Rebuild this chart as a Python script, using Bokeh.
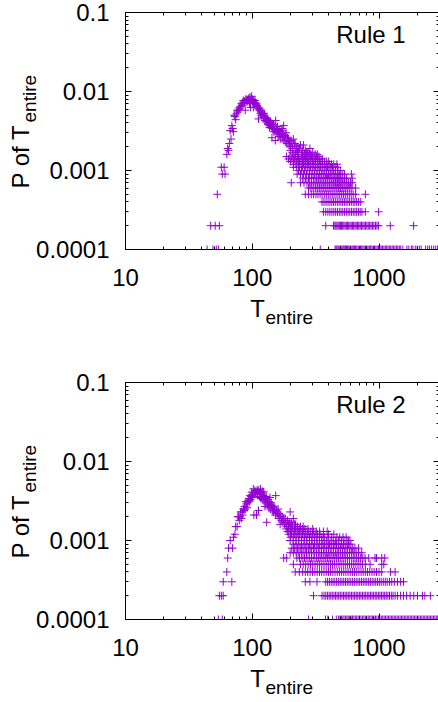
import numpy as np
from bokeh.plotting import figure
from bokeh.models import (Range1d, FixedTicker, CustomJSTickFormatter, LogAxis,
                          Label, ColumnDataSource)
from bokeh.layouts import column
from bokeh.embed import file_html
from bokeh.resources import INLINE

# ---------------- axes ----------------
X_TICKS = [10, 100, 1000]
X_MINOR = [20, 30, 40, 50, 60, 70, 80, 90, 200, 300, 400, 500, 600, 700, 800, 900, 2000, 3000]
Y_TICKS = [0.0001, 0.001, 0.01, 0.1]
Y_MINOR = [0.0002, 0.0003, 0.0004, 0.0005, 0.0006, 0.0007, 0.0008, 0.0009,
           0.002, 0.003, 0.004, 0.005, 0.006, 0.007, 0.008, 0.009,
           0.02, 0.03, 0.04, 0.05, 0.06, 0.07, 0.08, 0.09]
X_RANGE = (10, 3000)
Y_RANGE = (0.0001, 0.1)

# ---------------- Rule 1 data ----------------
# T values found on each discrete probability level
r1_p0001 = [44, 49, 52, 54, 344, 450, 458, 466, 475, 484, 493, 502, 512, 522, 532, 543, 554, 565, 577, 589,
            601, 614, 627, 640, 654, 668, 683, 698, 714, 730, 747, 764, 782, 800, 819, 838, 858, 878, 900,
            922, 944, 967, 990, 1015, 1040, 1066, 1093, 1120, 1148, 1177, 1207, 1238, 1270, 1303, 1337,
            1372, 1408, 1445, 1483, 1540, 1660, 1720, 1800, 1850, 1930, 2000, 2080, 2150, 2330, 2420, 2500,
            2600, 2700, 2800, 2900, 2990]
r1_p0002 = [47, 51, 55, 380, 438, 448, 457, 466, 476, 486, 496, 506, 517, 528, 540, 552, 564, 577, 590, 603,
            617, 631, 646, 661, 677, 693, 710, 727, 745, 763, 782, 802, 822, 843, 865, 888, 912, 937, 963,
            990, 1227, 1874]
r1_p0003 = [364, 380, 395, 410, 425, 440, 455, 470, 486, 502, 518, 535, 552, 570, 588, 607, 626, 646, 666,
            688, 710, 733, 780, 993]
r1_p0004 = [355, 368, 382, 396, 410, 424, 438, 452, 468, 484, 500, 516, 533, 550, 568, 586, 605, 625, 645,
            666, 690, 717]
r1_p0005 = [53, 262, 278, 292, 305, 318, 330, 343, 356, 370, 384, 398, 412, 427, 442, 458, 474, 490, 507,
            525, 543, 562, 582, 603, 625, 654, 780]
r1_p0006 = [278, 290, 302, 314, 326, 338, 350, 363, 376, 390, 404, 418, 433, 448, 464, 480, 496, 513, 530,
            548, 567, 587, 610, 654]
r1_p0007 = [203, 240, 256, 270, 282, 294, 306, 318, 330, 342, 355, 368, 381, 395, 409, 424, 439, 454, 470,
            486, 503, 520, 538, 557, 576, 596, 614]
r1_p0008 = [250, 264, 278, 292, 306, 320, 334, 348, 363, 378, 393, 409, 425, 442, 459, 477, 495, 514, 534,
            555, 614]
r1_p0009 = [58, 61, 226, 240, 254, 268, 282, 296, 310, 324, 338, 353, 368, 384, 400, 416, 433, 450, 470,
            490, 512, 535, 605]
r1_p0010 = [232, 245, 258, 271, 284, 297, 311, 325, 340, 355, 370, 386, 402, 418, 436, 455, 475, 495]
r1_p0011 = [57, 60, 211, 224, 236, 249, 262, 275, 288, 302, 316, 330, 345, 360, 376, 393, 412, 430, 452, 470]
r1_p0012 = [211, 221, 232, 243, 254, 266, 278, 290, 303, 316, 330, 344, 358, 373, 389, 405, 422, 440, 465]
r1_p0013 = [200, 212, 224, 236, 248, 260, 272, 285, 298, 312, 326, 340, 355, 370, 386, 401]
r1_p0014 = [193, 205, 216, 227, 238, 250, 262, 274, 287, 300, 314, 328, 342, 357]
r1_p0015 = [186, 198, 209, 220, 231, 246, 255, 267, 280, 293, 307, 322, 336]
# upper body of the distribution (T, P)
r1_body_T = [63, 64, 65, 66, 67, 68, 69, 70, 71, 72, 73, 74, 75, 76, 77, 78, 79, 80, 81, 82, 83, 84, 85, 86,
             87, 88, 89, 90, 91, 92, 93, 94, 95, 96, 97, 98, 99, 100, 101, 102, 103, 104, 105, 106, 107, 108,
             109, 110, 111, 112, 113, 114, 115, 116, 117, 118, 119, 120, 121, 122, 123, 124, 125, 126, 127,
             128, 129, 130, 131, 132, 133, 134, 135, 136, 137, 138, 139, 140, 142, 143, 144, 145, 147, 148,
             150, 151, 152, 153, 154, 155, 156, 158, 159, 160, 162, 163, 165, 166, 168, 169, 171, 172, 174,
             175, 177, 178, 180, 182, 184, 185, 188, 190, 193, 195, 196, 199, 200, 202, 205, 207, 208, 211,
             213, 215, 218, 220, 222, 225, 228, 230, 232, 236, 240, 244, 248, 250, 254, 258, 262, 266, 270,
             275, 282, 285, 290, 300, 313, 326]
r1_body_P = [0.0016, 0.0019, 0.0018, 0.0022, 0.0032, 0.0025, 0.0037, 0.0034, 0.0031, 0.0050, 0.0048, 0.0044,
             0.0052, 0.0058, 0.0055, 0.0058, 0.0062, 0.0060, 0.0065, 0.0070, 0.0067, 0.0072, 0.0077, 0.0070,
             0.0075, 0.0058, 0.0080, 0.0077, 0.0074, 0.0079, 0.0077, 0.0082, 0.0071, 0.0085, 0.0063, 0.0080,
             0.0087, 0.0073, 0.0079, 0.0063, 0.0076, 0.0070, 0.0077, 0.0072, 0.0068, 0.0070, 0.0066, 0.0064,
             0.0060, 0.0045, 0.0062, 0.0057, 0.0060, 0.0053, 0.0057, 0.0050, 0.0055, 0.0051, 0.0052, 0.0047,
             0.0048, 0.0053, 0.0050, 0.0043, 0.0047, 0.0046, 0.0041, 0.0042, 0.0045, 0.0044, 0.0038, 0.0039,
             0.0043, 0.0041, 0.0035, 0.0037, 0.0042, 0.0040, 0.0036, 0.0026, 0.0034, 0.0038, 0.0038, 0.0031,
             0.0033, 0.0036, 0.0024, 0.0043, 0.0030, 0.0032, 0.0034, 0.0036, 0.0029, 0.0031, 0.0027, 0.0033,
             0.0029, 0.0031, 0.0025, 0.0029, 0.0032, 0.0034, 0.0026, 0.0028, 0.0037, 0.0024, 0.0027, 0.0028,
             0.0023, 0.0030, 0.0022, 0.0026, 0.0025, 0.0021, 0.0023, 0.0020, 0.0018, 0.0024, 0.0022, 0.0017,
             0.0019, 0.0025, 0.0016, 0.0021, 0.0022, 0.0017, 0.0018, 0.0020, 0.0017, 0.0019, 0.0017, 0.0019,
             0.0021, 0.0016, 0.0018, 0.0018, 0.0021, 0.0016, 0.0018, 0.0016, 0.0017, 0.0017, 0.0016, 0.0019,
             0.0016, 0.0017, 0.0016, 0.0016]

# ---------------- Rule 2 data ----------------
r2_p0001 = [54, 58, 278, 378, 395, 430, 460, 480, 492, 505, 518, 530, 545, 558, 572, 587, 602, 617, 633, 650,
            667, 684, 702, 720, 740, 760, 780, 800, 822, 844, 866, 890, 913, 938, 963, 990, 1015, 1042, 1070,
            1098, 1127, 1157, 1188, 1220, 1252, 1285, 1320, 1355, 1390, 1428, 1466, 1505, 1545, 1586, 1628,
            1672, 1716, 1762, 1810, 1858, 1907, 1958, 2010, 2064, 2120, 2176, 2234, 2294, 2355, 2418, 2482,
            2548, 2616, 2686, 2757, 2830, 2905, 2980]
r2_p0002 = [55, 57, 59, 304, 355, 368, 380, 392, 404, 416, 428, 441, 454, 467, 481, 495, 510, 525, 540, 556,
            572, 589, 606, 624, 642, 661, 680, 700, 720, 741, 763, 785, 808, 832, 856, 881, 907, 933, 960, 988,
            1017, 1047, 1077, 1108, 1140, 1175, 1210, 1250, 1290, 1340, 1400, 1480, 1560, 1650, 1760, 1880,
            2010, 2200, 2300, 2540]
r2_p0003 = [59, 69, 262, 285, 324, 380, 393, 406, 420, 434, 448, 463, 478, 494, 510, 527, 544, 562, 580, 599,
            619, 639, 660, 682, 704, 727, 751, 776, 801, 828, 855, 883, 912, 942, 973, 1005, 1040, 1080, 1120,
            1160, 1210, 1260, 1320, 1400, 1480, 1560]
r2_p0004 = [63, 218, 235, 250, 262, 274, 286, 299, 312, 325, 339, 353, 368, 383, 399, 415, 432, 450, 468, 487,
            507, 527, 548, 570, 593, 617, 641, 667, 694, 722, 750, 780, 812, 845, 880, 915, 955, 1000, 1050,
            1230, 1340]
r2_p0005 = [211, 240, 252, 264, 276, 288, 300, 313, 326, 340, 354, 368, 383, 398, 414, 430, 447, 465, 483, 502,
            522, 542, 563, 585, 608, 632, 657, 683, 710, 740, 780, 850, 1050, 1090]
r2_p0006 = [64, 177, 187, 225, 236, 247, 258, 270, 282, 294, 307, 320, 334, 348, 362, 377, 393, 409, 426, 443,
            461, 480, 500, 520, 541, 563, 586, 610, 635, 661, 688, 716, 745, 775, 830, 930, 956, 1050, 1110]
r2_p0007 = [199, 211, 222, 233, 244, 256, 268, 281, 294, 308, 322, 337, 352, 368, 384, 401, 418, 436, 455, 474,
            494, 515, 537, 560, 584, 608, 633, 660, 690, 730]
r2_p0008 = [65, 70, 205, 216, 227, 239, 251, 264, 277, 290, 304, 319, 334, 350, 366, 383, 400, 418, 437, 457,
            477, 497, 518, 540, 563, 590, 620, 645, 690]
r2_p0009 = [211, 222, 233, 245, 257, 270, 283, 296, 310, 325, 340, 356, 372, 389, 406, 424, 443, 462, 482, 503,
            525, 548, 575, 600]
r2_p0010 = [67, 199, 210, 221, 232, 244, 256, 269, 282, 295, 309, 323, 338, 353, 368, 384, 401, 418, 436, 455,
            480, 505, 530, 560, 573, 590]
r2_p0011 = [71, 200, 211, 222, 234, 246, 258, 270, 283, 296, 310, 324, 339, 354, 370, 395, 424, 465, 490, 520,
            550]
r2_p0012 = [73, 194, 204, 215, 226, 237, 249, 261, 273, 286, 299, 313, 327, 342, 365, 400, 440]
r2_p0013 = [190, 200, 210, 220, 231, 242, 253, 265, 277, 290, 305, 320, 340, 364, 390]
r2_p0014 = [185, 195, 205, 215, 226, 237, 248, 260, 275, 300]
r2_p0015 = [74, 76, 187, 192, 199, 208, 218, 228, 240, 252]
r2_body_T = [77, 78, 79, 80, 81, 82, 83, 84, 85, 86, 87, 88, 89, 90, 91, 92, 93, 94, 95, 96, 97, 98, 99, 100,
             101, 102, 103, 104, 105, 106, 107, 108, 109, 110, 111, 112, 113, 114, 115, 116, 117, 118, 119,
             120, 121, 122, 123, 124, 125, 126, 127, 128, 129, 130, 131, 132, 133, 134, 135, 136, 137, 138,
             139, 140, 141, 143, 144, 145, 147, 148, 150, 152, 153, 155, 156, 158, 160, 162, 163, 165, 166,
             168, 170, 172, 174, 176, 177, 180, 182, 184, 190, 193, 196, 199, 202, 205, 211, 215, 220]
r2_body_P = [0.0020, 0.0020, 0.0018, 0.0020, 0.0023, 0.0019, 0.0023, 0.0021, 0.0025, 0.0024, 0.0027, 0.0025,
             0.0031, 0.0029, 0.0026, 0.0030, 0.0032, 0.0034, 0.0031, 0.0037, 0.0033, 0.0036, 0.0041, 0.0038,
             0.0035, 0.0045, 0.0021, 0.0040, 0.0043, 0.0041, 0.0039, 0.0021, 0.0043, 0.0038, 0.0044, 0.0024,
             0.0042, 0.0036, 0.0040, 0.0045, 0.0034, 0.0039, 0.0035, 0.0042, 0.0033, 0.0037, 0.0041, 0.0032,
             0.0036, 0.0027, 0.0034, 0.0030, 0.0036, 0.0017, 0.0031, 0.0029, 0.0033, 0.0028, 0.0026, 0.0031,
             0.0029, 0.0035, 0.0025, 0.0028, 0.0030, 0.0028, 0.0024, 0.0026, 0.0023, 0.0027, 0.0025, 0.0021,
             0.0037, 0.0024, 0.0023, 0.0022, 0.0025, 0.0019, 0.0022, 0.0020, 0.0016, 0.0021, 0.0018, 0.0020,
             0.0017, 0.0019, 0.0018, 0.0016, 0.0019, 0.0017, 0.0018, 0.0016, 0.0017, 0.0023, 0.0016, 0.0017,
             0.0019, 0.0016, 0.0016]

LEVELS = [0.0001, 0.0002, 0.0003, 0.0004, 0.0005, 0.0006, 0.0007, 0.0008,
          0.0009, 0.0010, 0.0011, 0.0012, 0.0013, 0.0014, 0.0015]
r1_rows = [r1_p0001, r1_p0002, r1_p0003, r1_p0004, r1_p0005, r1_p0006, r1_p0007, r1_p0008,
           r1_p0009, r1_p0010, r1_p0011, r1_p0012, r1_p0013, r1_p0014, r1_p0015]
r2_rows = [r2_p0001, r2_p0002, r2_p0003, r2_p0004, r2_p0005, r2_p0006, r2_p0007, r2_p0008,
           r2_p0009, r2_p0010, r2_p0011, r2_p0012, r2_p0013, r2_p0014, r2_p0015]

COLOR = "#9400d3"
FONT = "Liberation Sans"
BORDER_L = 125
FRAME_W = 314
FRAME_H = 237
BORDER_R = 200          # hidden spare room (beyond the window) that holds the title texts
WIDTH = BORDER_L + FRAME_W + BORDER_R


def build_source(rows, body_T, body_P):
    xs, ys = [], []
    for lev, ts in zip(LEVELS, rows):
        xs += list(ts)
        ys += [lev] * len(ts)
    xs += list(body_T)
    ys += list(body_P)
    return ColumnDataSource(data=dict(T=xs, P=ys))


def at(dx, dy):
    """data position of a point dx px right of, dy px below the frame's top-left corner"""
    lx0, lx1 = np.log10(X_RANGE[0]), np.log10(X_RANGE[1])
    ly0, ly1 = np.log10(Y_RANGE[0]), np.log10(Y_RANGE[1])
    return 10 ** (lx0 + dx / FRAME_W * (lx1 - lx0)), 10 ** (ly1 - dy / FRAME_H * (ly1 - ly0))


def style_axis(ax, ticks, minor, show):
    ax.ticker = FixedTicker(ticks=ticks, minor_ticks=minor)
    ax.major_tick_in = 6
    ax.major_tick_out = 0
    ax.minor_tick_in = 3
    ax.minor_tick_out = 0
    ax.major_tick_line_color = "black"
    ax.minor_tick_line_color = "black"
    ax.axis_line_color = "black"
    ax.major_label_text_font = FONT
    ax.major_label_text_color = "black"
    if show:
        ax.formatter = CustomJSTickFormatter(code="return String(tick);")
        ax.major_label_text_font_size = "24px"
    else:
        ax.formatter = CustomJSTickFormatter(code="return '';")
        ax.major_label_text_font_size = "0px"
        ax.major_label_standoff = 0


def text_label(dx, dy, text, size, angle=0):
    x, y = at(dx, dy)
    return Label(x=x, y=y, text=text, text_font=FONT, text_font_size=size,
                 angle=angle, angle_units="deg", text_align="left",
                 text_baseline="alphabetic", text_color="black")


def make_panel(rows, body_T, body_P, rule_text, top, bottom):
    p = figure(width=WIDTH, height=top + FRAME_H + bottom,
               x_axis_type="log", y_axis_type="log",
               x_range=Range1d(*X_RANGE), y_range=Range1d(*Y_RANGE),
               output_backend="svg", toolbar_location=None,
               min_border_left=BORDER_L, min_border_right=BORDER_R,
               min_border_top=top, min_border_bottom=bottom)
    p.xgrid.visible = False
    p.ygrid.visible = False
    p.outline_line_color = "black"
    p.outline_line_width = 1
    p.background_fill_color = "white"
    p.border_fill_color = "white"

    style_axis(p.xaxis[0], X_TICKS, X_MINOR, True)
    style_axis(p.yaxis[0], Y_TICKS, Y_MINOR, True)
    p.xaxis[0].major_label_standoff = 19
    p.yaxis[0].major_label_standoff = 16

    top_ax = LogAxis()
    style_axis(top_ax, X_TICKS, X_MINOR, False)
    p.add_layout(top_ax, "above")
    right_ax = LogAxis()
    style_axis(right_ax, Y_TICKS, Y_MINOR, False)
    p.add_layout(right_ax, "right")

    src = build_source(rows, body_T, body_P)
    p.scatter(x="T", y="P", source=src, marker="cross", size=8,
              line_color=COLOR, line_width=1)

    # "Rule n" key text (inside the frame)
    p.add_layout(text_label(210.7, 22, rule_text, "24px"))
    # axis titles: placed at data positions, hosted in the (off-window) right panel
    p.add_layout(text_label(124.7, 295.5, "T", "24px"), "right")
    p.add_layout(text_label(140, 304.5, "entire", "19px"), "right")
    p.add_layout(text_label(-105.3, 176, "P of T", "24px", 90), "right")
    p.add_layout(text_label(-96.3, 110, "entire", "19px", 90), "right")
    return p


p1 = make_panel(r1_rows, r1_body_T, r1_body_P, "Rule 1", 12, 121)
p2 = make_panel(r2_rows, r2_body_T, r2_body_P, "Rule 2", 12, 83)
layout = column(p1, p2)

html = file_html(layout, INLINE, title="Rule 1 / Rule 2")
html = html.replace("<head>", "<head><style>html,body{overflow:hidden !important;}</style>", 1)
open("out.html", "w").write(html)
